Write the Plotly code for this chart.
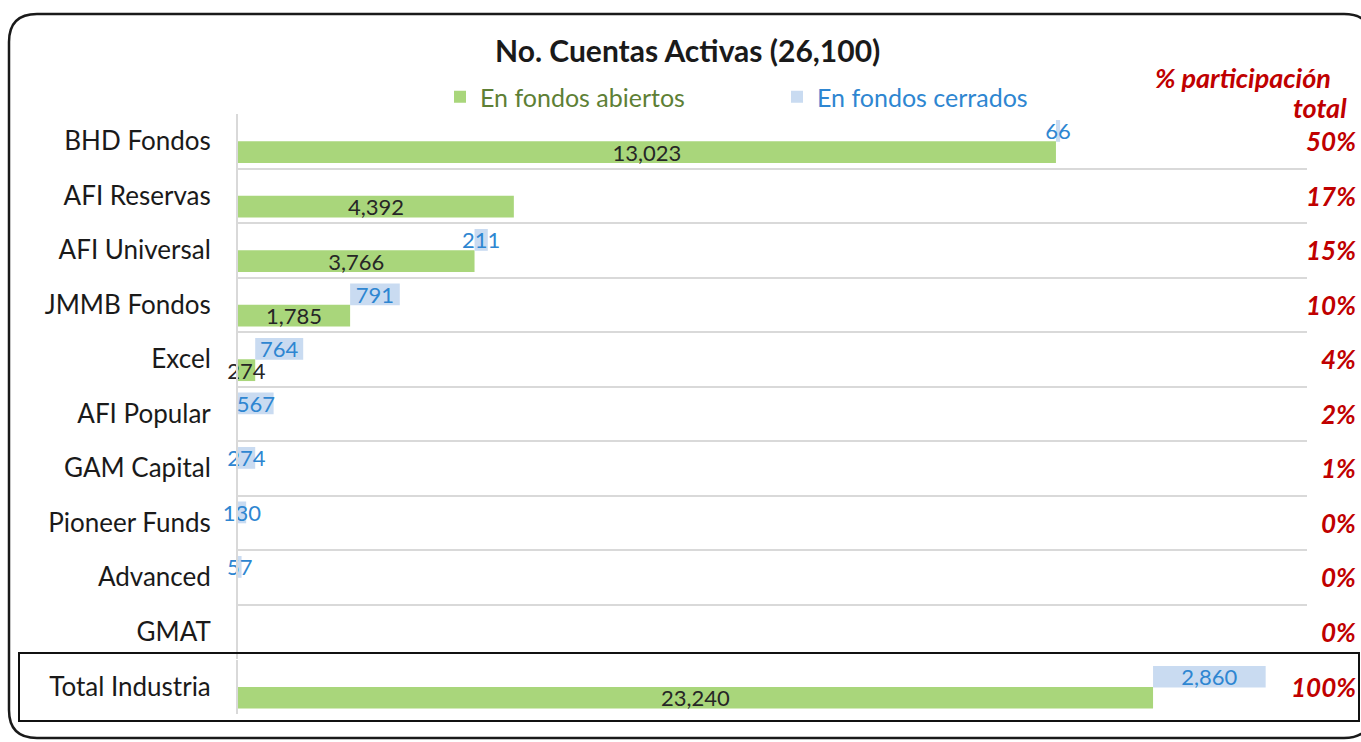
import plotly.graph_objects as go

W, H = 1361, 742

categories = ["BHD Fondos", "AFI Reservas", "AFI Universal", "JMMB Fondos", "Excel",
              "AFI Popular", "GAM Capital", "Pioneer Funds", "Advanced", "GMAT"]
abiertos = [13023, 4392, 3766, 1785, 274, 0, 0, 0, 0, 0]
cerrados = [66, 0, 211, 791, 764, 567, 274, 130, 57, 0]
participacion = ["50%", "17%", "15%", "10%", "4%", "2%", "1%", "0%", "0%", "0%"]

total_cat = ["Total Industria"]
total_abiertos = [23240]
total_cerrados = [2860]
total_participacion = ["100%"]

title_text = "No. Cuentas Activas (26,100)"
FONT = "Lato"
GREEN = "#A9D67B"
BLUE = "#C9DBF1"
BLUE_TXT = "#2E86D1"
GREEN_TXT = "#5E7F35"
RED = "#C00000"


def fx(x):
    return x / W


def fy(y):
    return 1 - y / H


def fmt(vals):
    return [f"{v:,}" if v else "" for v in vals]


def colors(vals, c):
    return [c if v else "rgba(0,0,0,0)" for v in vals]


fig = go.Figure()

common = dict(orientation="h", textposition="inside", insidetextanchor="middle",
              textangle=0, constraintext="none", width=0.4, cliponaxis=False,
              marker_line_width=0)
LBL = 22

fig.add_trace(go.Bar(name=f"<span style='color:{GREEN_TXT}'>En fondos abiertos</span>",
                     y=categories, x=abiertos, marker_color=GREEN, offset=0.0,
                     text=fmt(abiertos), textfont=dict(color="#262626", size=LBL, family=FONT),
                     xaxis="x", yaxis="y", **common))
fig.add_trace(go.Bar(name=f"<span style='color:{BLUE_TXT}'>En fondos cerrados</span>",
                     y=categories, x=cerrados, base=abiertos, marker_color=colors(cerrados, BLUE),
                     offset=-0.39,
                     text=fmt(cerrados), textfont=dict(color=BLUE_TXT, size=LBL, family=FONT),
                     xaxis="x", yaxis="y", **common))
fig.add_trace(go.Bar(y=total_cat, x=total_abiertos, marker_color=GREEN, offset=0.0,
                     text=fmt(total_abiertos), textfont=dict(color="#262626", size=LBL, family=FONT),
                     xaxis="x2", yaxis="y2", showlegend=False, **common))
fig.add_trace(go.Bar(y=total_cat, x=total_cerrados, base=total_abiertos, marker_color=BLUE,
                     offset=-0.39, text=fmt(total_cerrados),
                     textfont=dict(color=BLUE_TXT, size=LBL, family=FONT),
                     xaxis="x2", yaxis="y2", showlegend=False, **common))

dom_x = [fx(238), fx(1307)]
yaxis_common = dict(showgrid=True, gridcolor="#D9D9D9", gridwidth=1.5, tickson="boundaries",
                    showline=True, linecolor="#D9D9D9", linewidth=2, ticks="",
                    ticklabelstandoff=20, tickfont=dict(size=26, color="#1a1a1a", family=FONT),
                    zeroline=False, fixedrange=True)
xaxis_common = dict(domain=dom_x, showgrid=False, zeroline=False, showticklabels=False,
                    ticks="", showline=False, fixedrange=True)

fig.update_layout(
    width=W, height=H,
    margin=dict(l=0, r=0, t=0, b=0),
    paper_bgcolor="white", plot_bgcolor="white",
    font=dict(family=FONT),
    barmode="overlay",
    uniformtext=dict(minsize=LBL, mode="show"),
    xaxis=dict(range=[0, 17020], anchor="y", **xaxis_common),
    yaxis=dict(domain=[fy(659), fy(114)], anchor="x", categoryorder="array",
               categoryarray=categories, range=[len(categories) - 0.5, -0.5], **yaxis_common),
    xaxis2=dict(range=[0, 27150], anchor="y2", **xaxis_common),
    yaxis2=dict(domain=[fy(714), fy(660)], anchor="x2", range=[0.5, -0.5], **yaxis_common),
    legend=dict(orientation="h", x=fx(440), y=fy(97), xanchor="left", yanchor="middle",
                entrywidth=292, entrywidthmode="pixels", font=dict(size=25, family=FONT),
                bgcolor="rgba(0,0,0,0)", itemclick=False, itemdoubleclick=False),
)

PCT = 26
annotations = [
    dict(text=f"<b>{title_text}</b>", x=fx(688), y=fy(50), xref="paper", yref="paper",
         yanchor="middle", showarrow=False, font=dict(size=30, color="#1a1a1a", family=FONT)),
    dict(text="<b><i>% participación</i></b>", x=fx(1333), y=fy(78), xref="paper", yref="paper",
         xanchor="right", yanchor="middle", showarrow=False,
         font=dict(size=27, color=RED, family=FONT)),
    dict(text="<b><i>total</i></b>", x=fx(1349), y=fy(107), xref="paper", yref="paper",
         xanchor="right", yanchor="middle", showarrow=False,
         font=dict(size=27, color=RED, family=FONT)),
]
for c, p in zip(categories, participacion):
    annotations.append(dict(text=f"<b><i>{p}</i></b>", x=fx(1358), xref="paper", y=c, yref="y",
                            xanchor="right", yanchor="middle", showarrow=False,
                            font=dict(size=PCT, color=RED, family=FONT)))
for c, p in zip(total_cat, total_participacion):
    annotations.append(dict(text=f"<b><i>{p}</i></b>", x=fx(1358), xref="paper", y=c, yref="y2",
                            xanchor="right", yanchor="middle", showarrow=False,
                            font=dict(size=PCT, color=RED, family=FONT)))
fig.update_layout(annotations=annotations)

# rounded outer frame (right edge runs just past the canvas, as in the source)
x0, y0, x1, y1, r = 9, 14, 1372, 738, 28
path = (f"M {fx(x0 + r)} {fy(y0)} L {fx(x1 - r)} {fy(y0)} "
        f"Q {fx(x1)} {fy(y0)} {fx(x1)} {fy(y0 + r)} "
        f"L {fx(x1)} {fy(y1 - r)} Q {fx(x1)} {fy(y1)} {fx(x1 - r)} {fy(y1)} "
        f"L {fx(x0 + r)} {fy(y1)} Q {fx(x0)} {fy(y1)} {fx(x0)} {fy(y1 - r)} "
        f"L {fx(x0)} {fy(y0 + r)} Q {fx(x0)} {fy(y0)} {fx(x0 + r)} {fy(y0)} Z")
shapes = [
    dict(type="path", path=path, xref="paper", yref="paper",
         line=dict(color="#1a1a1a", width=2.5)),
    dict(type="rect", xref="paper", yref="paper", x0=fx(19), x1=fx(1359), y0=fy(721), y1=fy(653),
         line=dict(color="#111111", width=2)),
]
fig.update_layout(shapes=shapes)

fig.write_html("out.html", config={"displayModeBar": False},
               post_script="document.body.style.margin='0';document.body.style.overflow='hidden';")
